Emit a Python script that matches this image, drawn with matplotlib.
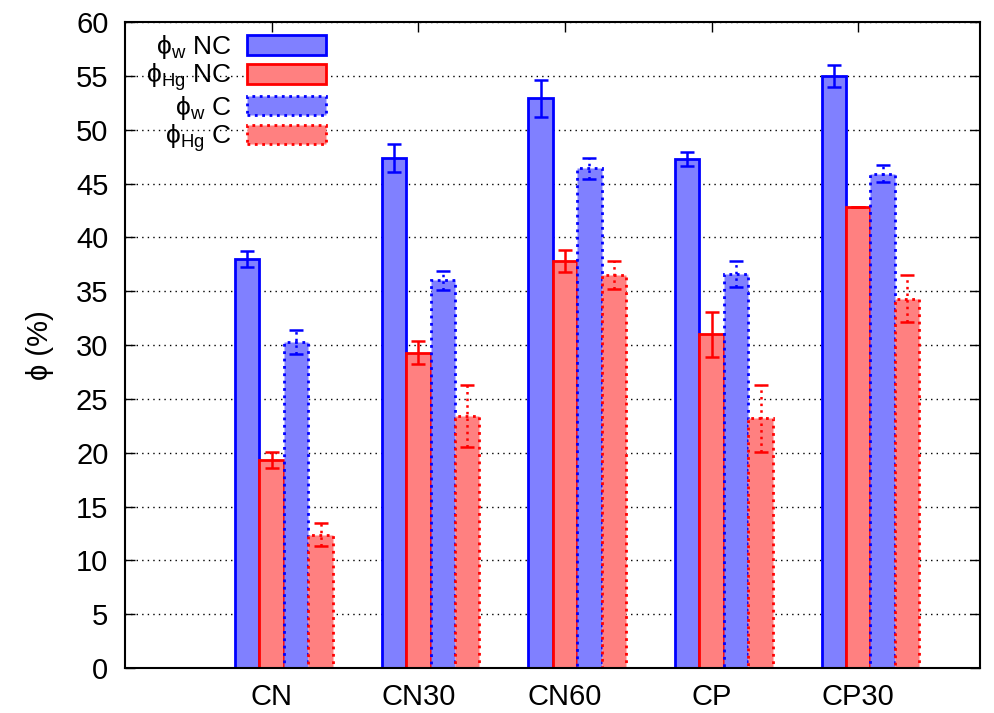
import matplotlib
matplotlib.use("Agg")
import matplotlib.pyplot as plt
import numpy as np

plt.rcParams['font.family'] = ['Liberation Sans', 'DejaVu Sans']
plt.rcParams['mathtext.fontset'] = 'custom'
plt.rcParams['mathtext.rm'] = 'Liberation Sans'
plt.rcParams['mathtext.it'] = 'Liberation Sans'

# data
categories = ["CN", "CN30", "CN60", "CP", "CP30"]
phi_w_nc = [38.0, 47.4, 52.9, 47.3, 55.0]
phi_w_nc_err = [0.75, 1.3, 1.75, 0.65, 1.0]
phi_hg_nc = [19.3, 29.3, 37.8, 31.0, 42.8]
phi_hg_nc_err = [0.75, 1.1, 1.0, 2.1, 0.0]
phi_w_c = [30.3, 36.0, 46.4, 36.6, 45.9]
phi_w_c_err = [1.1, 0.9, 1.0, 1.2, 0.8]
phi_hg_c = [12.4, 23.4, 36.5, 23.2, 34.3]
phi_hg_c_err = [1.1, 2.9, 1.3, 3.1, 2.2]

series = [
    (r"ϕ$_\mathrm{w}$ NC", phi_w_nc, phi_w_nc_err, "#8080ff", "#0000ff", "-"),
    (r"ϕ$_\mathrm{Hg}$ NC", phi_hg_nc, phi_hg_nc_err, "#ff8080", "#ff0000", "-"),
    (r"ϕ$_\mathrm{w}$ C", phi_w_c, phi_w_c_err, "#8080ff", "#0000ff", ":"),
    (r"ϕ$_\mathrm{Hg}$ C", phi_hg_c, phi_hg_c_err, "#ff8080", "#ff0000", ":"),
]

fig = plt.figure(figsize=(9.94, 7.13), dpi=100)
ax = fig.add_axes([0.1258, 0.0631, 0.8601, 0.906])

x = np.arange(1, len(categories) + 1)
width = 1 / 6
for i, (label, vals, errs, fc, ec, ls) in enumerate(series):
    pos = x + (i - 1) * width
    ax.bar(pos, vals, width, color=fc, edgecolor=ec, linewidth=2,
           linestyle=ls, label=label, zorder=2)
    eb = ax.errorbar(pos, vals, yerr=errs, fmt='none', ecolor=ec,
                     elinewidth=1.8, capsize=5, capthick=1.8, zorder=3)
    if ls == ":":
        for lc in eb[2]:
            lc.set_linestyle(":")

ax.set_xlim(0, 5.83)
ax.set_ylim(0, 60)
ax.set_yticks(np.arange(0, 61, 5))
ax.set_xticks(x)
ax.set_xticklabels(categories)
ax.tick_params(direction='in', length=7, width=1, labelsize=21,
               top=True, right=True)
ax.tick_params(axis='x', pad=11)
ax.tick_params(axis='y', pad=12)
ax.yaxis.grid(True, linestyle=(0, (1, 3)), color='black', linewidth=1)
ax.set_axisbelow(True)
for s in ax.spines.values():
    s.set_linewidth(1.5)
ax.set_ylabel("ϕ (%)", fontsize=21, labelpad=16)

ax.legend(loc='upper left', bbox_to_anchor=(0.018, 0.991), frameon=False,
          markerfirst=False, fontsize=19,
          handlelength=3.0, handleheight=0.76, labelspacing=0.02,
          borderaxespad=0.1, borderpad=0.1, handletextpad=0.6)

fig.savefig("out.png", dpi=100)
